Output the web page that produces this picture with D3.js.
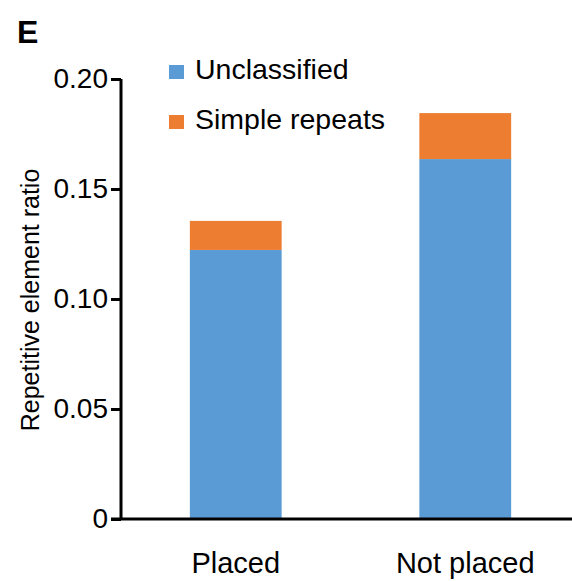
<!DOCTYPE html>
<html><head><meta charset="utf-8">
<script src="https://cdn.jsdelivr.net/npm/d3@7"></script>
<style>body{margin:0;background:#fff}svg{display:block;font-family:"Liberation Sans",Arial,sans-serif}</style>
</head><body>
<script>
const categories = ["Placed", "Not placed"];
const seriesNames = ["Unclassified", "Simple repeats"];
const unclassified = [0.1223, 0.1636];
const simpleRepeats = [0.0132, 0.0209];
const yTicks = [0, 0.05, 0.10, 0.15, 0.20];
const yTickLabels = ["0", "0.05", "0.10", "0.15", "0.20"];
const colors = ["#5B9BD5", "#ED7D31"];

const W = 572, H = 581;
const svg = d3.select("body").append("svg").attr("width", W).attr("height", H);

const y = d3.scaleLinear().domain([0, 0.20]).range([519, 79]);
const x = d3.scaleBand().domain(categories).range([121, 580]).paddingInner(0.6).paddingOuter(0.3);

const data = categories.map((c, i) => ({cat: c, Unclassified: unclassified[i], "Simple repeats": simpleRepeats[i]}));
const stack = d3.stack().keys(seriesNames)(data);

svg.append("g").selectAll("g").data(stack).join("g")
  .attr("fill", (d, i) => colors[i])
  .selectAll("rect").data(d => d).join("rect")
  .attr("x", d => x(d.data.cat))
  .attr("width", x.bandwidth())
  .attr("y", d => y(d[1]))
  .attr("height", d => y(d[0]) - y(d[1]));

// Y axis
const yAxis = d3.axisLeft(y).tickValues(yTicks).tickFormat((d, i) => yTickLabels[i]).tickSize(10).tickPadding(3);
const gy = svg.append("g").attr("transform", "translate(121,0)").call(yAxis);
gy.select(".domain").attr("stroke", "#000").attr("stroke-width", 3).attr("d", "M0,79V519");
gy.selectAll(".tick line").attr("stroke", "#000").attr("stroke-width", 3);
gy.selectAll(".tick text").attr("font-size", 28).attr("fill", "#000").attr("font-family", "Liberation Sans, Arial, sans-serif");

// X axis line
svg.append("line").attr("x1", 111).attr("x2", 572).attr("y1", 519).attr("y2", 519).attr("stroke", "#000").attr("stroke-width", 3);

// X labels
svg.append("g").selectAll("text").data(categories).join("text")
  .attr("x", d => x(d) + x.bandwidth() / 2)
  .attr("y", 573)
  .attr("text-anchor", "middle")
  .attr("font-size", 29)
  .text(d => d);

// Y title
svg.append("text")
  .attr("transform", "translate(39,300) rotate(-90)")
  .attr("text-anchor", "middle")
  .attr("font-size", 25)
  .text("Repetitive element ratio");

// Panel label
svg.append("text").attr("x", 17).attr("y", 43).attr("font-size", 32).attr("font-weight", "bold").text("E");

// Legend
const leg = svg.append("g");
seriesNames.forEach((s, i) => {
  const yy = 65 + i * 50;
  leg.append("rect").attr("x", 169).attr("y", yy).attr("width", 15).attr("height", 14).attr("fill", colors[i]);
  leg.append("text").attr("x", 195).attr("y", yy + 14).attr("font-size", 28.5).text(s);
});
</script>
</body></html>
